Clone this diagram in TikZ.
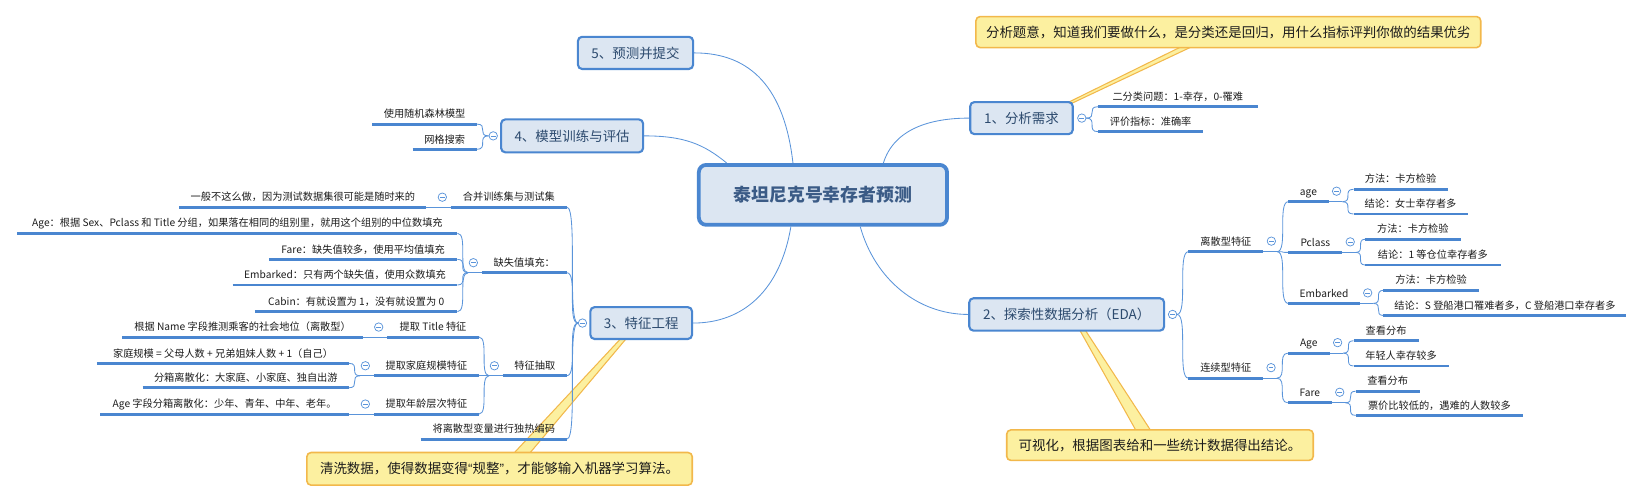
\documentclass[tikz,border=0pt]{standalone}
\usepackage{fontspec}
\setmainfont{Noto Sans CJK SC}
\newfontfamily\quotefont{Liberation Sans}
\usetikzlibrary{calc}
\definecolor{bl}{HTML}{4A86D0}
\definecolor{cn}{HTML}{5A94DA}
\definecolor{bf}{HTML}{DCE6F2}
\definecolor{tx}{HTML}{2C4A6E}
\definecolor{rt}{HTML}{3B5B86}
\definecolor{yf}{HTML}{FCF0A0}
\definecolor{yb}{HTML}{F2B84B}
\definecolor{st}{HTML}{1C1C1C}
\pgfdeclarelayer{bg}
\pgfsetlayers{bg,main}
\tikzset{
 topic/.style={draw=bl, line width=2pt, fill=bf, rounded corners=4pt, text=tx, font=\fontsize{12.8}{14}\selectfont, inner sep=0pt},
 root/.style={draw=bl, line width=3.6pt, fill=bf, rounded corners=7pt, text=rt, font=\fontsize{17}{20}\selectfont\bfseries, inner sep=0pt, minimum width=236pt, minimum height=57pt},
 note/.style={draw=yb, line width=1.5pt, fill=yf, rounded corners=4pt, text=st, font=\fontsize{12.8}{14}\selectfont, inner sep=0pt},
 sub/.style={inner xsep=10pt, inner ysep=0pt, text height=8pt, text depth=5.8pt, text=st, font=\fontsize{9.7}{11}\selectfont},
 uline/.style={draw=bl, line width=2.8pt},
 conn/.style={draw=cn, line width=0.8pt},
 tog/.style={circle, draw=cn, line width=0.7pt, fill=white, minimum size=8pt, inner sep=0pt,
   path picture={\draw[cn, line width=0.7pt] ([xshift=-2.2pt]path picture bounding box.center) -- ([xshift=2.2pt]path picture bounding box.center);}},
 ptr/.style={fill=yf, draw=yb, line width=1pt, line join=round},
}
\newcommand\brR[2]{\draw[conn] (#1) .. controls (#1 -| #2.south west) and (#2.south west -| #1) .. (#2.south west);}
\newcommand\brL[2]{\draw[conn] (#1) .. controls (#1 -| #2.south east) and (#2.south east -| #1) .. (#2.south east);}
\begin{document}
\begin{tikzpicture}[x=1pt,y=-1pt]
\useasboundingbox (0,0) rectangle (1568,478.3);
% root and topics
\node[root] (c) at (782.5,185.3) {泰坦尼克号幸存者预测};
\node[topic, minimum width=109.5pt, minimum height=30.6pt] (t5) at (604.3,50.3) {5、预测并提交};
\node[topic, minimum width=135pt, minimum height=31.3pt] (t4) at (544,129.2) {4、模型训练与评估};
\node[topic, minimum width=96.7pt, minimum height=30.3pt] (t3) at (609.7,307.2) {3、特征工程};
\node[topic, minimum width=97.5pt, minimum height=30.5pt] (t1) at (971.3,112.3) {1、分析需求};
\node[topic, minimum width=185.3pt, minimum height=30.8pt] (t2) at (1014.3,299) {2、探索性数据分析（EDA）};
% notes
\node[note, minimum width=480pt, minimum height=29.5pt] (n1) at (1168,30.5) {分析题意，知道我们要做什么，是分类还是回归，用什么指标评判你做的结果优劣};
\node[note, minimum width=291.5pt, minimum height=29pt] (n2) at (1103,423.3) {可视化，根据图表给和一些统计数据得出结论。};
\node[note, minimum width=366.5pt, minimum height=31pt] (n3) at (475,445.8) {清洗数据，使得数据变得{\quotefont “}规整{\quotefont ”}，才能够输入机器学习算法。};
% right side subtopics
\node[sub, minimum width=151.5pt, anchor=south west] (a1) at (1044,101.5) {二分类问题：1-幸存，0-罹难};
\node[sub, minimum width=99.8pt, anchor=south west] (a2) at (1044,125.2) {评价指标：准确率};
\node[sub, minimum width=71pt, anchor=south west] (d1) at (1130,239.3) {离散型特征};
\node[sub, minimum width=70.7pt, anchor=south west] (d2) at (1130,359.6) {连续型特征};
\node[sub, minimum width=38pt, anchor=south west] (e1) at (1225,191.8) {age};
\node[sub, minimum width=51pt, anchor=south west] (e2) at (1225,240) {Pclass};
\node[sub, minimum width=67.6pt, anchor=south west] (e3) at (1225,288.5) {Embarked};
\node[sub, minimum width=89pt, anchor=south west] (f1) at (1287,180) {方法：卡方检验};
\node[sub, minimum width=108pt, anchor=south west] (f2) at (1287,203.5) {结论：女士幸存者多};
\node[sub, minimum width=90.6pt, anchor=south west] (f3) at (1298,227.5) {方法：卡方检验};
\node[sub, minimum width=128.6pt, anchor=south west] (f4) at (1298,252) {结论：1 等仓位幸存者多};
\node[sub, minimum width=90pt, anchor=south west] (f5) at (1315.5,276) {方法：卡方检验};
\node[sub, minimum width=230.5pt, anchor=south west] (f6) at (1315.5,300) {结论：S 登船港口罹难者多，C 登船港口幸存者多};
\node[sub, minimum width=39.5pt, anchor=south west] (e4) at (1224.5,335.8) {Age};
\node[sub, minimum width=41.5pt, anchor=south west] (e5) at (1224.5,383) {Fare};
\node[sub, minimum width=61.5pt, anchor=south west] (f7) at (1287,324) {查看分布};
\node[sub, minimum width=90pt, anchor=south west] (f8) at (1287,348) {年轻人幸存较多};
\node[sub, minimum width=60.6pt, anchor=south west] (f9) at (1289,372) {查看分布};
\node[sub, minimum width=159pt, anchor=south west] (f10) at (1289,395) {票价比较低的，遇难的人数较多};
% left side subtopics
\node[sub, minimum width=98.9pt, anchor=south east] (g1) at (453.4,118) {使用随机森林模型};
\node[sub, minimum width=60.7pt, anchor=south east] (g2) at (453.4,142) {网格搜索};
\node[sub, minimum width=110pt, anchor=south east] (h1) at (539,197) {合并训练集与测试集};
\node[sub, minimum width=80.5pt, anchor=south east] (h2) at (539,259.3) {缺失值填充：};
\node[sub, minimum width=60.5pt, anchor=south east] (h3) at (539,357.3) {特征抽取};
\node[sub, minimum width=138.6pt, anchor=south east] (h4) at (539,417.5) {将离散型变量进行独热编码};
\node[sub, minimum width=234.5pt, anchor=south east] (i1) at (405.5,197) {一般不这么做，因为测试数据集很可能是随时来的};
\node[sub, minimum width=418pt, anchor=south east] (i2) at (435,221.8) {Age：根据 Sex、Pclass 和 Title 分组，如果落在相同的组别里，就用这个组别的中位数填充};
\node[sub, minimum width=179pt, anchor=south east] (i3) at (435,246.6) {Fare：缺失值较多，使用平均值填充};
\node[sub, minimum width=213.4pt, anchor=south east] (i4) at (435,271) {Embarked：只有两个缺失值，使用众数填充};
\node[sub, minimum width=192.2pt, anchor=south east] (i5) at (435,296.4) {Cabin：有就设置为 1，没有就设置为 0};
\node[sub, minimum width=87pt, anchor=south east] (j1) at (455.5,320.5) {提取 Title 特征};
\node[sub, minimum width=99.7pt, anchor=south east] (j2) at (455.5,357.3) {提取家庭规模特征};
\node[sub, minimum width=99.7pt, anchor=south east] (j3) at (455.5,393.7) {提取年龄层次特征};
\node[sub, minimum width=228.2pt, anchor=south east] (k1) at (345,320.5) {根据 Name 字段推测乘客的社会地位（离散型）};
\node[sub, minimum width=239.4pt, anchor=south east] (k2) at (332,345.5) {家庭规模 = 父母人数 + 兄弟姐妹人数 + 1（自己）};
\node[sub, minimum width=196.1pt, anchor=south east] (k3) at (332,368.7) {分箱离散化：大家庭、小家庭、独自出游};
\node[sub, minimum width=236.5pt, anchor=south east] (k4) at (332,393.7) {Age 字段分箱离散化：少年、青年、中年、老年。};
% underlines
\foreach \n in {a1,a2,d1,d2,e1,e2,e3,e4,e5,f1,f2,f3,f4,f5,f6,f7,f8,f9,f10,g1,g2,h1,h2,h3,h4,i1,i2,i3,i4,i5,j1,j2,j3,k1,k2,k3,k4}
  \draw[uline] (\n.south west) -- (\n.south east);
% junction coordinates
\coordinate (t1j) at ($(t1.east)+(11.8,0)$);
\coordinate (t2j) at ($(t2.east)+(11.2,0)$);
\coordinate (t3j) at ($(t3.west)+(-10.8,0)$);
\coordinate (t4j) at ($(t4.west)+(-11,0)$);
\foreach \n in {d1,d2,e1,e2,e3,e4,e5} \coordinate (\n j) at ($(\n.south east)+(13,0)$);
\foreach \n in {h2,h3,j2} \coordinate (\n j) at ($(\n.south west)+(-13,0)$);
% connectors
\begin{pgfonlayer}{bg}
\draw[conn] ([xshift=57.5pt]c.north) .. controls +(10,-32) and +(-38,0) .. (t1.west);
\draw[conn] ([xshift=35.5pt]c.south) .. controls +(14,50) and +(-48,0) .. (t2.west);
\draw[conn] ([xshift=-28.5pt]c.north) .. controls +(-8,-70) and +(55,0) .. (t5.east);
\draw[conn] ([xshift=-91.5pt]c.north) .. controls +(-22,-18) and +(38,0) .. (t4.east);
\draw[conn] ([xshift=-30.5pt]c.south) .. controls +(-10,60) and +(48,0) .. (t3.east);
% callout pointers
\filldraw[ptr] ($(t1.north)+(39,4)$) -- ($(t1.north)+(44,4)$) -- ($(n1.south)+(-36,-1)$) -- ($(n1.south)+(-46,-1)$) -- cycle;
\filldraw[ptr] ($(t2.south)+(11,-4)$) -- ($(t2.south)+(16,-4)$) -- ($(n2.north)+(-9,1)$) -- ($(n2.north)+(-23,1)$) -- cycle;
\filldraw[ptr] ($(t3.south)+(-17,-4)$) -- ($(t3.south)+(-12,-4)$) -- ($(n3.north)+(29,1)$) -- ($(n3.north)+(14,1)$) -- cycle;
% branches
\brR{t1j}{a1} \brR{t1j}{a2}
\brR{t2j}{d1} \brR{t2j}{d2}
\foreach \n in {d1,d2,e1,e2,e3,e4,e5} \draw[conn] (\n.south east) -- (\n j);
\brR{d1j}{e1} \brR{d1j}{e2} \brR{d1j}{e3}
\brR{d2j}{e4} \brR{d2j}{e5}
\brR{e1j}{f1} \brR{e1j}{f2}
\brR{e2j}{f3} \brR{e2j}{f4}
\brR{e3j}{f5} \brR{e3j}{f6}
\brR{e4j}{f7} \brR{e4j}{f8}
\brR{e5j}{f9} \brR{e5j}{f10}
\brL{t4j}{g1} \brL{t4j}{g2}
\brL{t3j}{h1} \brL{t3j}{h2} \brL{t3j}{h3} \brL{t3j}{h4}
\foreach \n in {h2,h3,j2} \draw[conn] (\n.south west) -- (\n j);
\brL{h2j}{i2} \brL{h2j}{i3} \brL{h2j}{i4} \brL{h2j}{i5}
\brL{h3j}{j1} \brL{h3j}{j2} \brL{h3j}{j3}
\brL{j2j}{k2} \brL{j2j}{k3}
\draw[conn] (h1.south west) -- (i1.south east);
\draw[conn] (j1.south west) -- (k1.south east);
\draw[conn] (j3.south west) -- (k4.south east);
\end{pgfonlayer}
% toggles
\node[tog] (o1) at ($(t1.east)+(7.6,0)$) {};
\node[tog] (o2) at ($(t2.east)+(7,0)$) {};
\node[tog] (o3) at ($(t3.west)+(-6.5,0)$) {};
\node[tog] (o4) at ($(t4.west)+(-6.5,0)$) {};
\foreach \n in {d1,d2,e1,e2,e3,e4,e5} \node[tog] (o\n) at ($(\n.south east)+(7.5,-10)$) {};
\foreach \n in {h1,h2,h3,j1,j2,j3} \node[tog] (o\n) at ($(\n.south west)+(-8,-9.5)$) {};
\end{tikzpicture}
\end{document}
